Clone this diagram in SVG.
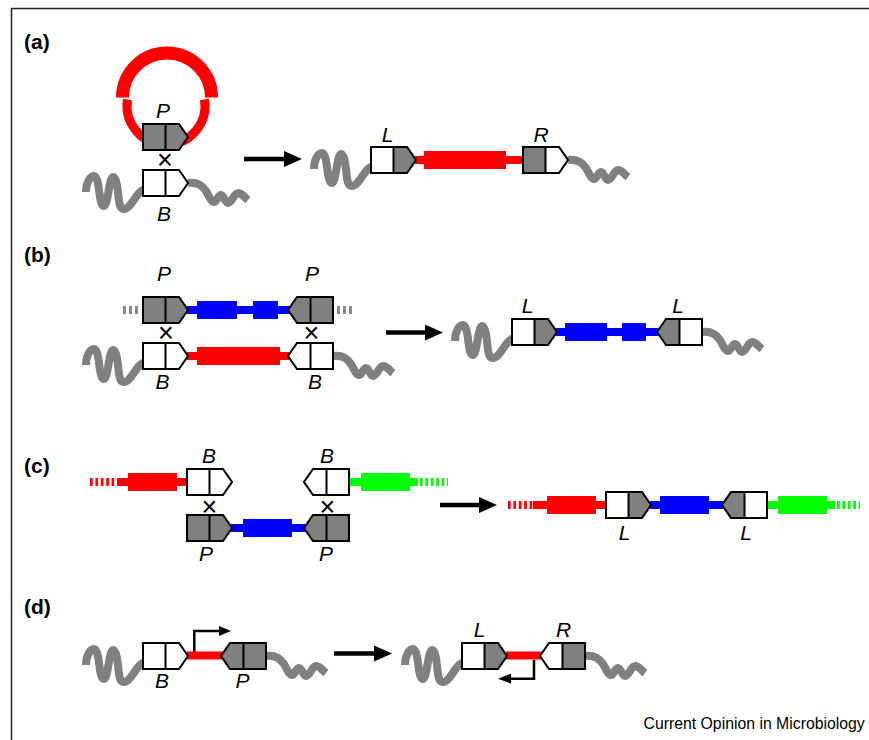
<svg xmlns="http://www.w3.org/2000/svg" xmlns:xlink="http://www.w3.org/1999/xlink" width="869" height="740" viewBox="0 0 869 740">
  <style>
    .w { fill: #ffffff; }
    .g { fill: #808080; }
    .ol { fill: none; stroke: #000; stroke-width: 2; }
    .wave { fill: none; stroke: #808080; stroke-width: 8; }
    .red { fill: #ff0000; }
    .blue { fill: #0000ff; }
    .green { fill: #00ff00; }
    .dash { stroke-width: 8; stroke-dasharray: 2.7 2.7; fill: none; }
    .lbl { font-family: "Liberation Sans", Arial, sans-serif; font-style: italic; font-size: 21px; text-anchor: middle; fill: #000; }
    .x { font-family: "Liberation Sans", Arial, sans-serif; font-size: 27px; text-anchor: middle; fill: #000; }
    .panel { font-family: "Liberation Sans", Arial, sans-serif; font-weight: bold; font-size: 21px; fill: #000; }
    .arrow { stroke: #000; stroke-width: 4.5; fill: none; }
    .prom { stroke: #000; stroke-width: 2.5; fill: none; }
  </style>
  <defs>
    <!-- att-site box: flat half, pointed half, outline with divider -->
    <path id="hl" d="M0,0H22.5V26H0Z"/>
    <path id="hr" d="M22.5,0H36L45,13L36,26H22.5Z"/>
    <path id="ol" d="M0,0H36L45,13L36,26H0ZM22.5,0V26"/>
    <!-- chromosome squiggles, anchored at the box edge / box centre line -->
    <path id="wave-l" d="M-57,9 C-57,0 -53,-7 -49,-7 C-45,-7 -44,8 -43,14 C-42,20 -41,23 -39,23 C-35,23 -34,-6 -30,-6 C-26,-6 -25,10 -24,18 C-23,24 -22,26 -19,26 C-12,26 -6,8 0,7"/>
    <path id="wave-r" d="M0,0 C8,-1 14,2 18,8 C21,13 23,19 26,19 C29,19 30,12 33,12 C36,12 37,20 40,20 C44,20 46,10 50,10 C54,10 56,14 60,17"/>
    <path id="head" d="M-18,-8 L0,0 L-18,8 Z"/>
  </defs>

  <rect x="0" y="0" width="869" height="740" fill="#fff"/>
  <!-- frame -->
  <path d="M11.5,740 V8.5 H869" fill="none" stroke="#222" stroke-width="1.5"/>

  <!-- panel letters -->
  <text class="panel" x="24" y="49">(a)</text>
  <text class="panel" x="24" y="262">(b)</text>
  <text class="panel" x="24" y="473">(c)</text>
  <text class="panel" x="24" y="614">(d)</text>

  <!-- connectors: reaction arrows and promoter arrows -->
  <g id="connectors">
    <path class="arrow" d="M244,159 H286"/><use href="#head" transform="translate(302,159)"/>
    <path class="arrow" d="M386,332.5 H427"/><use href="#head" transform="translate(443,332.5)"/>
    <path class="arrow" d="M440,505 H481"/><use href="#head" transform="translate(497,505)"/>
    <path class="arrow" d="M334,653.5 H376"/><use href="#head" transform="translate(392,653.5)"/>
    <path class="prom" d="M194.3,652 V631 H221"/><path d="M219,626 L231,631 L219,636 Z"/>
    <path class="prom" d="M534,660 V678.7 H509"/><path d="M511,673.7 L498,678.7 L511,683.7 Z"/>
  </g>

  <!-- ===== (a) ===== -->
  <g id="a-plasmid">
    <path d="M204.5,99.5 A39,39 0 1 1 127.5,99.5" fill="none" stroke="#ff0000" stroke-width="9"/>
    <path d="M122.5,97.5 A44.5,44.5 0 0 1 211.5,97.5" fill="none" stroke="#ff0000" stroke-width="13"/>
  </g>
  <g id="a-chrom">
    <use href="#wave-l" class="wave" transform="translate(143,183)"/>
    <use href="#wave-r" class="wave" transform="translate(188,183)"/>
  </g>
  <g id="a-P" transform="translate(143,124)"><use href="#hl" class="g"/><use href="#hr" class="g"/><use href="#ol" class="ol"/></g>
  <g id="a-B" transform="translate(143,170)"><use href="#hl" class="w"/><use href="#hr" class="w"/><use href="#ol" class="ol"/></g>
  <text class="lbl" x="163" y="118">P</text>
  <text class="x" x="165" y="169">×</text>
  <text class="lbl" x="164" y="220.5">B</text>

  <g id="a-product">
    <use href="#wave-l" class="wave" transform="translate(371,160)"/>
    <use href="#wave-r" class="wave" transform="translate(568,160)"/>
    <rect class="red" x="415" y="156" width="109" height="8"/>
    <rect class="red" x="424" y="151" width="82" height="18"/>
  </g>
  <g id="a-L" transform="translate(371,147)"><use href="#hl" class="w"/><use href="#hr" class="g"/><use href="#ol" class="ol"/></g>
  <g id="a-R" transform="translate(523,147)"><use href="#hl" class="g"/><use href="#hr" class="w"/><use href="#ol" class="ol"/></g>
  <text class="lbl" x="387.5" y="141.7">L</text>
  <text class="lbl" x="541" y="141.7">R</text>

  <!-- ===== (b) ===== -->
  <g id="b-donor">
    <line class="dash" x1="123" y1="310" x2="141" y2="310" stroke="#888" style="stroke-dasharray:3 3"/>
    <line class="dash" x1="337" y1="310" x2="352" y2="310" stroke="#888" style="stroke-dasharray:3 3"/>
    <rect class="blue" x="187" y="306" width="103" height="8"/>
    <rect class="blue" x="197" y="301" width="40" height="18"/>
    <rect class="blue" x="253" y="301" width="25" height="18"/>
  </g>
  <g id="b-chrom">
    <use href="#wave-l" class="wave" transform="translate(143,356)"/>
    <use href="#wave-r" class="wave" transform="translate(333,356)"/>
    <rect class="red" x="187" y="352" width="103" height="8"/>
    <rect class="red" x="197" y="347" width="83" height="18"/>
  </g>
  <g id="b-P1" transform="translate(143,297)"><use href="#hl" class="g"/><use href="#hr" class="g"/><use href="#ol" class="ol"/></g>
  <g id="b-P2" transform="translate(333,297) scale(-1,1)"><use href="#hl" class="g"/><use href="#hr" class="g"/><use href="#ol" class="ol"/></g>
  <g id="b-B1" transform="translate(143,343)"><use href="#hl" class="w"/><use href="#hr" class="w"/><use href="#ol" class="ol"/></g>
  <g id="b-B2" transform="translate(333,343) scale(-1,1)"><use href="#hl" class="w"/><use href="#hr" class="w"/><use href="#ol" class="ol"/></g>
  <text class="lbl" x="164" y="280.5">P</text>
  <text class="lbl" x="312" y="280.5">P</text>
  <text class="x" x="166" y="341.5">×</text>
  <text class="x" x="311.5" y="341.5">×</text>
  <text class="lbl" x="162.5" y="389">B</text>
  <text class="lbl" x="315" y="389">B</text>

  <g id="b-product">
    <use href="#wave-l" class="wave" transform="translate(512,332)"/>
    <use href="#wave-r" class="wave" transform="translate(702,332)"/>
    <rect class="blue" x="556" y="328" width="102" height="8"/>
    <rect class="blue" x="565" y="323" width="42" height="18"/>
    <rect class="blue" x="622" y="323" width="24" height="18"/>
  </g>
  <g id="b-L1" transform="translate(512,319)"><use href="#hl" class="w"/><use href="#hr" class="g"/><use href="#ol" class="ol"/></g>
  <g id="b-L2" transform="translate(702,319) scale(-1,1)"><use href="#hl" class="w"/><use href="#hr" class="g"/><use href="#ol" class="ol"/></g>
  <text class="lbl" x="527.5" y="312.7">L</text>
  <text class="lbl" x="678" y="312.7">L</text>

  <!-- ===== (c) ===== -->
  <g id="c-top">
    <line class="dash" x1="90" y1="482" x2="118" y2="482" stroke="#ff0000"/>
    <rect class="red" x="117" y="478" width="71" height="8"/>
    <rect class="red" x="128" y="473" width="49" height="18"/>
    <rect class="green" x="348" y="478" width="70" height="8"/>
    <rect class="green" x="361" y="473" width="49" height="18"/>
    <line class="dash" x1="420" y1="482" x2="448" y2="482" stroke="#00ff00"/>
  </g>
  <g id="c-bottom">
    <rect class="blue" x="231" y="524" width="74" height="8"/>
    <rect class="blue" x="243" y="519" width="49" height="18"/>
  </g>
  <g id="c-B1" transform="translate(187,469)"><use href="#hl" class="w"/><use href="#hr" class="w"/><use href="#ol" class="ol"/></g>
  <g id="c-B2" transform="translate(349,469) scale(-1,1)"><use href="#hl" class="w"/><use href="#hr" class="w"/><use href="#ol" class="ol"/></g>
  <g id="c-P1" transform="translate(187,515)"><use href="#hl" class="g"/><use href="#hr" class="g"/><use href="#ol" class="ol"/></g>
  <g id="c-P2" transform="translate(349,515) scale(-1,1)"><use href="#hl" class="g"/><use href="#hr" class="g"/><use href="#ol" class="ol"/></g>
  <text class="lbl" x="209" y="463.3">B</text>
  <text class="lbl" x="327" y="463.3">B</text>
  <text class="x" x="209.5" y="516">×</text>
  <text class="x" x="327.5" y="516">×</text>
  <text class="lbl" x="206" y="561">P</text>
  <text class="lbl" x="326" y="561">P</text>

  <g id="c-product">
    <line class="dash" x1="508" y1="505" x2="534" y2="505" stroke="#ff0000"/>
    <rect class="red" x="533" y="501" width="74" height="8"/>
    <rect class="red" x="547" y="496" width="49" height="18"/>
    <rect class="blue" x="650" y="501" width="73" height="8"/>
    <rect class="blue" x="660" y="496" width="49" height="18"/>
    <rect class="green" x="766" y="501" width="69" height="8"/>
    <rect class="green" x="778" y="496" width="49" height="18"/>
    <line class="dash" x1="837" y1="505" x2="860" y2="505" stroke="#00ff00"/>
  </g>
  <g id="c-L1" transform="translate(606,492)"><use href="#hl" class="w"/><use href="#hr" class="g"/><use href="#ol" class="ol"/></g>
  <g id="c-L2" transform="translate(767,492) scale(-1,1)"><use href="#hl" class="w"/><use href="#hr" class="g"/><use href="#ol" class="ol"/></g>
  <text class="lbl" x="624.5" y="540">L</text>
  <text class="lbl" x="746" y="540">L</text>

  <!-- ===== (d) ===== -->
  <g id="d-chrom">
    <use href="#wave-l" class="wave" transform="translate(143,656)"/>
    <use href="#wave-r" class="wave" transform="translate(266,656)"/>
    <rect class="red" x="187" y="651.5" width="36" height="8"/>
  </g>
  <g id="d-B" transform="translate(143,643)"><use href="#hl" class="w"/><use href="#hr" class="w"/><use href="#ol" class="ol"/></g>
  <g id="d-P" transform="translate(266,643) scale(-1,1)"><use href="#hl" class="g"/><use href="#hr" class="g"/><use href="#ol" class="ol"/></g>
  <text class="lbl" x="162" y="688">B</text>
  <text class="lbl" x="242.5" y="688">P</text>

  <g id="d-product">
    <use href="#wave-l" class="wave" transform="translate(462,656)"/>
    <use href="#wave-r" class="wave" transform="translate(585,656)"/>
    <rect class="red" x="506" y="651.5" width="36" height="8"/>
  </g>
  <g id="d-L" transform="translate(462,643)"><use href="#hl" class="w"/><use href="#hr" class="g"/><use href="#ol" class="ol"/></g>
  <g id="d-R" transform="translate(585,643) scale(-1,1)"><use href="#hl" class="g"/><use href="#hr" class="w"/><use href="#ol" class="ol"/></g>
  <text class="lbl" x="479.5" y="637">L</text>
  <text class="lbl" x="563.5" y="637">R</text>

  <text x="643.5" y="729" font-family="'Liberation Sans', Arial, sans-serif" font-size="15.8" fill="#000">Current Opinion in Microbiology</text>
</svg>
